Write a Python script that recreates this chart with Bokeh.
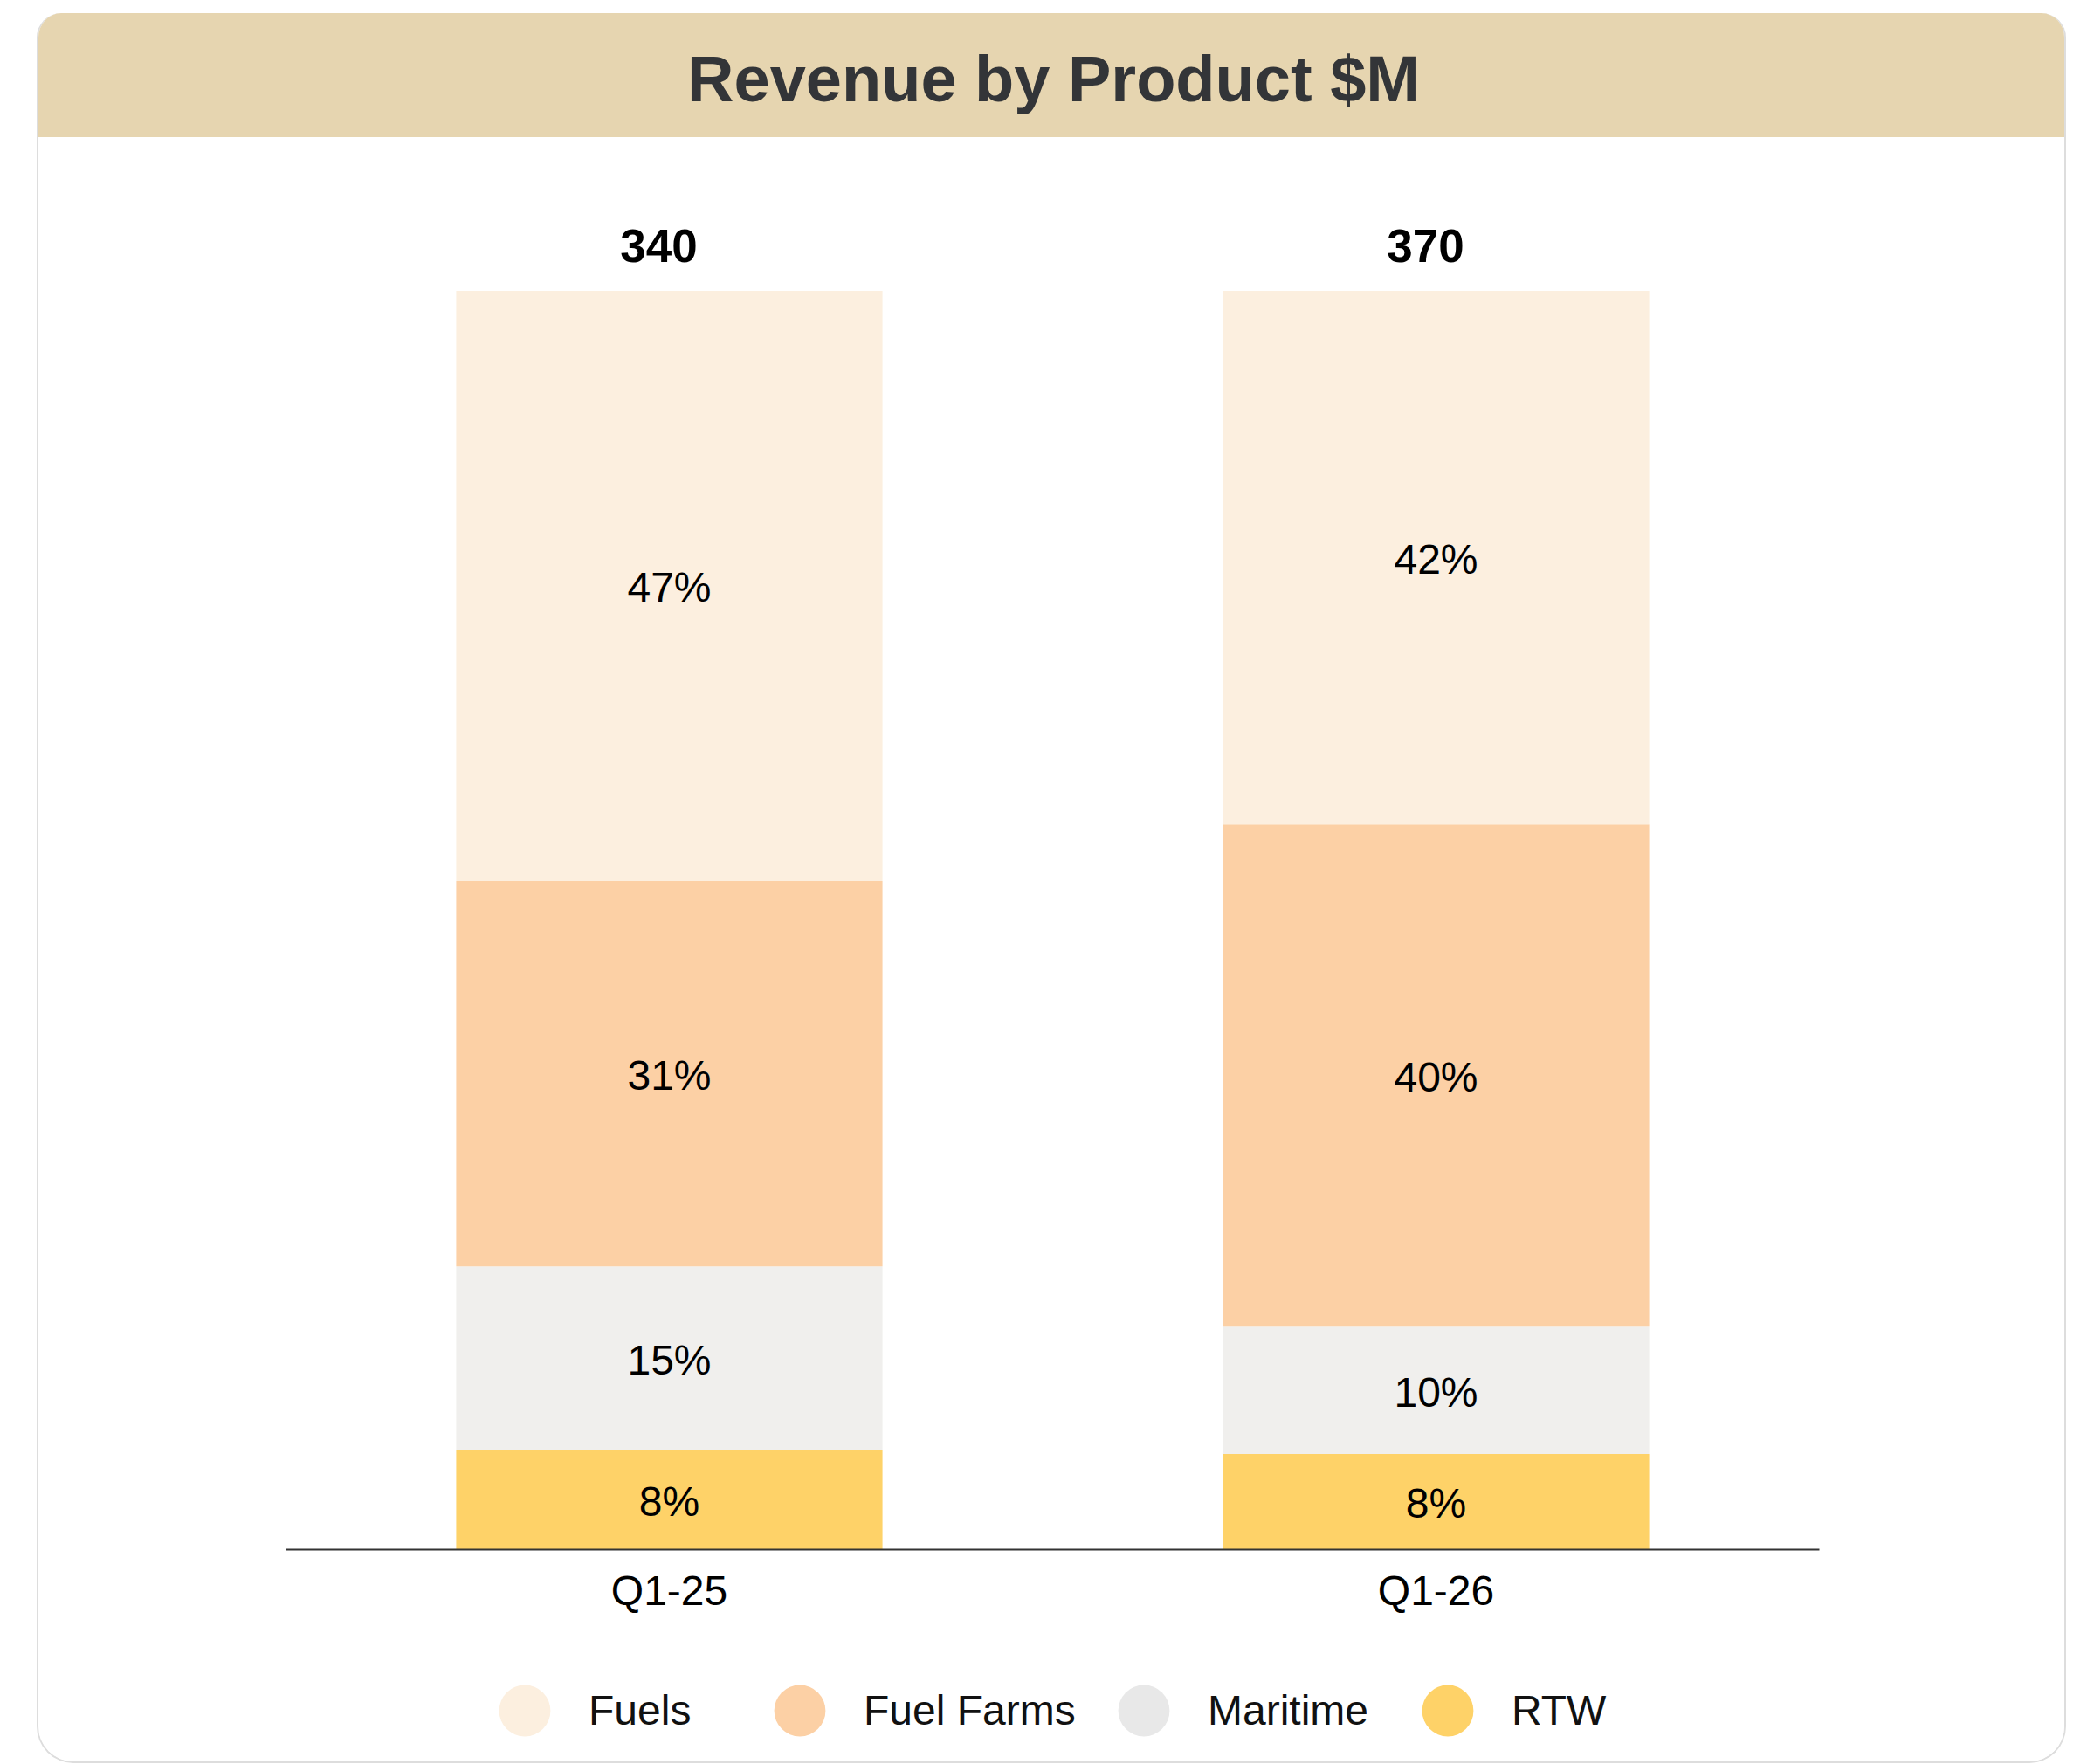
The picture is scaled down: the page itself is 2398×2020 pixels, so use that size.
from bokeh.plotting import figure
from bokeh.models import ColumnDataSource, FactorRange, Range1d, Legend, LegendItem, Label
from bokeh.layouts import column
from bokeh.embed import file_html
from bokeh.resources import INLINE
from bokeh.core.properties import value

# ---- data (shares in %) ----
quarters = ["Q1-25", "Q1-26"]
products = ["Fuels", "Fuel Farms", "Maritime", "RTW"]
fuels = [46.9, 42.4]
fuel_farms = [30.6, 39.9]
maritime = [14.6, 10.1]
rtw = [7.9, 7.6]
totals = [340, 370]
colors = {"Fuels": "#FCEFDF", "Fuel Farms": "#FCD0A5", "Maritime": "#F0EFED", "RTW": "#FED268"}
legend_colors = {"Fuels": "#FCEFDF", "Fuel Farms": "#FCD0A5", "Maritime": "#E8E8E8", "RTW": "#FED268"}

FONT = "Liberation Sans"
W = 2320

series = {"Fuels": fuels, "Fuel Farms": fuel_farms, "Maritime": maritime, "RTW": rtw}
stack_order = ["RTW", "Maritime", "Fuel Farms", "Fuels"]  # bottom to top

src = ColumnDataSource(dict(quarter=quarters, **{k: series[k] for k in stack_order}))

# segment labels
lx, ly, lt = [], [], []
for i, q in enumerate(quarters):
    cum = 0.0
    for k in stack_order:
        v = series[k][i]
        lx.append(q)
        ly.append(cum + v / 2)
        lt.append(f"{round(v)}%")
        cum += v
lab_src = ColumnDataSource(dict(x=lx, y=ly, t=lt))

tot_y = [sum(series[k][i] for k in stack_order) for i in range(len(quarters))]
tot_src = ColumnDataSource(dict(x=quarters, y=tot_y, t=[str(t) for t in totals]))

common = dict(output_backend="svg", toolbar_location=None,
              min_border_left=283, min_border_right=281, outline_line_color=None)

# ---- title band ----
band = figure(width=W, height=142, x_range=Range1d(0, 1), y_range=Range1d(0, 1),
              x_axis_location=None, y_axis_location=None,
              min_border_top=0, min_border_bottom=0,
              background_fill_color=None, border_fill_color=None, **common)
band.styles = {"background-color": "#E6D5B0"}
band.grid.visible = False
band.add_layout(Label(x=0.5, y=67, x_units="data", y_units="screen", x_offset=1,
                      text="Revenue by Product $M", text_align="center",
                      text_baseline="middle", text_font_size="74px",
                      text_font_style="bold", text_color="#333538", text_font=FONT))

# ---- main chart ----
p = figure(x_range=FactorRange(*quarters), y_range=Range1d(0, 112.17),
           width=W, height=1697, y_axis_location=None,
           min_border_top=0, min_border_bottom=80,
           background_fill_color="white", border_fill_color="white", **common)
p.grid.visible = False

p.vbar_stack(stack_order, x="quarter", width=0.556, source=src,
             color=[colors[k] for k in stack_order], line_color=None)

p.text(x="x", y="y", text="t", source=lab_src, text_align="center",
       text_baseline="middle", text_font=value(FONT), text_font_size="48px",
       text_color="#000000", y_offset=2)
p.text(x="x", y="y", text="t", source=tot_src, text_align="center",
       text_baseline="middle", text_font=value(FONT), text_font_size="53px",
       text_font_style="bold", text_color="#000000", x_offset=-12, y_offset=-51)

ax = p.xaxis[0]
ax.axis_line_color = "#333333"
ax.axis_line_width = 2
ax.major_tick_line_color = None
ax.minor_tick_line_color = None
ax.major_tick_out = 0
ax.major_label_standoff = 20
ax.major_label_text_font = FONT
ax.major_label_text_font_size = "48px"
ax.major_label_text_color = "#000000"

# ---- legend strip (circle swatches) ----
leg = figure(width=W, height=163, x_range=Range1d(0, 1), y_range=Range1d(0, 1),
             x_axis_location=None, y_axis_location=None,
             min_border_top=0, min_border_bottom=0,
             background_fill_color="white", border_fill_color="white", **common)
leg.grid.visible = False
legend_x = [200, 515, 909, 1257]  # left edge of each legend entry (screen px from frame left)
for k, lxp in zip(products, legend_x):
    r = leg.scatter(x=series[k], y=series[k], marker="circle", size=59,
                    fill_color=legend_colors[k], line_color=None, visible=False)
    lg = Legend(items=[LegendItem(label=k, renderers=[r])], orientation="horizontal",
                location=(lxp, -14.75), glyph_width=147, glyph_height=147,
                label_standoff=0, spacing=0, padding=0, margin=0,
                border_line_color=None, background_fill_alpha=0,
                label_text_font=FONT, label_text_font_size="48px",
                label_text_color="#111111")
    leg.add_layout(lg)

layout = column(band, p, leg, spacing=0, styles={
    "margin-left": "42px", "margin-top": "15px",
    "border-left": "2px solid #DDDDDD", "border-right": "2px solid #DDDDDD",
    "border-bottom": "2px solid #DDDDDD",
    "border-radius": "28px 28px 42px 42px", "overflow": "hidden"})

open("out.html", "w").write(file_html(layout, INLINE))
